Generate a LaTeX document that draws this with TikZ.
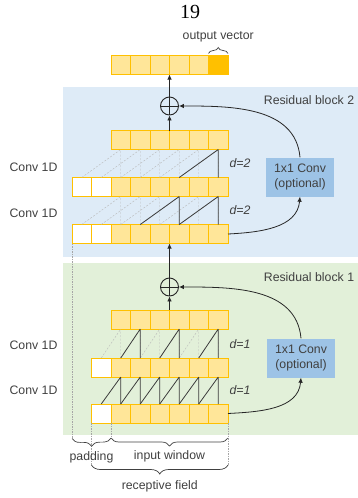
\documentclass[tikz,border=0pt]{standalone}
\usepackage{fontspec}
\setmainfont{Liberation Serif}
\setsansfont{Liberation Sans}
\usepackage{tikz}
\usetikzlibrary{arrows.meta, positioning, calc, decorations.pathreplacing}
\definecolor{tcnyellow}{RGB}{255,230,153}
\definecolor{tcnorange}{RGB}{255,192,0}
\definecolor{tcnblue}{RGB}{222,235,247}
\definecolor{tcngreen}{RGB}{226,240,217}
\definecolor{tcnconv}{RGB}{157,195,230}
\definecolor{tcnink}{RGB}{64,64,64}
\definecolor{tcnline}{RGB}{38,38,38}
\tikzset{
  %% ---- boxes ----
  cell/.style    = {rectangle, draw=tcnorange, line width=0.9pt,
                    fill=#1, minimum width=19.5pt, minimum height=19pt,
                    inner sep=0pt, outer sep=0pt},
  cell/.default  = tcnyellow,
  convbox/.style = {rectangle, fill=tcnconv, minimum width=68pt,
                    minimum height=39pt, align=center, text=tcnink},
  addnode/.style = {circle, draw=tcnline, line width=0.9pt,
                    minimum size=18pt, inner sep=0pt,
                    path picture={\draw[tcnline, line width=0.9pt]
                      (path picture bounding box.north) -- (path picture bounding box.south)
                      (path picture bounding box.west) -- (path picture bounding box.east);}},
  lbl/.style     = {inner sep=1pt, text=tcnink},
  dlbl/.style    = {inner sep=1pt, text=tcnink, font=\sffamily\itshape\fontsize{12.3}{15}\selectfont},
  %% ---- lines ----
  arrow/.style   = {-{Latex[length=5pt,width=4.5pt]}, line width=0.8pt, color=tcnline},
  link/.style    = {line width=0.8pt, color=tcnline!90},
  ghost/.style   = {dash pattern=on 2pt off 1.5pt, line width=0.4pt, color=gray!55},
  guide/.style   = {dash pattern=on 1.5pt off 1pt, line width=0.5pt, color=gray!70},
  curly/.style   = {decorate, decoration={brace, amplitude=#1}, line width=0.7pt, color=tcnink},
  curly/.default = 8pt,
}

\begin{document}
\begin{tikzpicture}[x=1pt, y=-1pt, font=\sffamily\fontsize{12.3}{15}\selectfont]

  \useasboundingbox (0,0) rectangle (358,498);

  \fill[tcnblue]  (63,87)  rectangle (358,257);
  \fill[tcngreen] (63,263) rectangle (358,435);

  \node[font=\rmfamily\fontsize{20}{22}\selectfont] (page) at (190,12) {19};

  %% output row
  \foreach \i in {3,...,7} \node[cell] (oc\i) at (62.25+19.5*\i,65) {};
  \node[cell=tcnorange] (oc8) at (218.25,65) {};

  %% residual block 2
  \foreach \i in {3,...,8} \node[cell] (u2c\i) at (62.25+19.5*\i,140) {};
  \foreach \i in {1,2} {
    \node[cell=white] (u1c\i) at (62.25+19.5*\i,187) {};
    \node[cell=white] (u0c\i) at (62.25+19.5*\i,234) {};
  }
  \foreach \i in {3,...,8} {
    \node[cell] (u1c\i) at (62.25+19.5*\i,187) {};
    \node[cell] (u0c\i) at (62.25+19.5*\i,234) {};
  }

  \foreach \i in {3,...,8} {
    \pgfmathtruncatemacro\j{\i-2}
    \draw[ghost] (u0c\i.north) -- (u1c\i.south) (u0c\j.north) -- (u1c\i.south);
    \draw[ghost] (u1c\i.north) -- (u2c\i.south) (u1c\j.north) -- (u2c\i.south);
  }
  \foreach \i in {6,8} {
    \pgfmathtruncatemacro\j{\i-2}
    \draw[link] (u0c\i.north) -- (u1c\i.south) (u0c\j.north) -- (u1c\i.south);
  }
  \draw[link] (u1c8.north) -- (u2c8.south) (u1c6.north) -- (u2c8.south);

  \node[addnode] (add2) at (169.5,106) {};
  \node[convbox] (conv2) at (300,177) {1x1 Conv\\(optional)};
  \node[lbl] (res2) at (309,100) {Residual block 2};
  \node[lbl] (conv2a) at (33.5,167) {Conv 1D};
  \node[lbl] (conv2b) at (33.5,213) {Conv 1D};
  \node[dlbl] (d2a) at (240,163) {d=2};
  \node[dlbl] (d2b) at (240,210) {d=2};

  \draw[arrow] (u2c6.north west) -- (add2);
  \draw[arrow] (add2) -- (oc6.south west);
  \draw[arrow] (u0c8.east) to[out=3, in=-95] (conv2.south);
  \draw[arrow] (conv2.north) to[out=95, in=0] (add2.east);

  %% residual block 1
  \foreach \i in {3,...,8} \node[cell] (l2c\i) at (62.25+19.5*\i,319.5) {};
  \node[cell=white] (l1c2) at (101.25,367.5) {};
  \node[cell=white] (l0c2) at (101.25,413.5) {};
  \foreach \i in {3,...,8} {
    \node[cell] (l1c\i) at (62.25+19.5*\i,367.5) {};
    \node[cell] (l0c\i) at (62.25+19.5*\i,413.5) {};
  }

  \foreach \i in {3,...,8} {
    \pgfmathtruncatemacro\j{\i-1}
    \draw[link]  (l0c\i.north) -- (l1c\i.south) (l0c\j.north) -- (l1c\i.south);
    \draw[ghost] (l1c\i.north) -- (l2c\i.south) (l1c\j.north) -- (l2c\i.south);
  }
  \foreach \i in {4,6,8} {
    \pgfmathtruncatemacro\j{\i-1}
    \draw[link] (l1c\i.north) -- (l2c\i.south) (l1c\j.north) -- (l2c\i.south);
  }

  \node[addnode] (add1) at (169.5,287) {};
  \node[convbox] (conv1) at (301,358) {1x1 Conv\\(optional)};
  \node[lbl] (res1) at (309,277) {Residual block 1};
  \node[lbl] (conv1a) at (33.5,345) {Conv 1D};
  \node[lbl] (conv1b) at (33.5,390) {Conv 1D};
  \node[dlbl] (d1a) at (240,344) {d=1};
  \node[dlbl] (d1b) at (240,390) {d=1};

  \draw[arrow] (l2c6.north west) -- (add1);
  \draw[arrow] (add1) -- (u0c6.south west);
  \draw[arrow] (l0c8.east) to[out=3, in=-95] (conv1.south);
  \draw[arrow] (conv1.north) to[out=95, in=0] (add1.east);

  %% braces
  \draw[curly=6pt] ($(oc8.north west)+(0,-2)$) -- ($(oc8.north east)+(0,-2)$)
    node[lbl, midway, above=10pt] (outlbl) {output vector};

  \draw[guide] (u0c1.south west) -- ++(0,195) coordinate (padL);
  \draw[guide] (l0c3.south west) -- ++(0,15) coordinate (winL);
  \draw[guide] (l0c2.south west) -- ++(0,42) coordinate (recL);
  \draw[guide] (l0c8.south east) -- ++(0,42) coordinate (recR);
  \coordinate (winR) at (winL -| recR);

  \draw[curly, decoration={mirror}] (padL) -- (winL)
    node[lbl, midway, below=11.5pt] (padlbl) {padding};
  \draw[curly, decoration={mirror}] (winL) -- (winR)
    node[lbl, midway, below=11.5pt] (winlbl) {input window};
  \draw[curly=9pt, decoration={mirror}] (recL) -- (recR)
    node[lbl, midway, below=14pt] (reclbl) {receptive field};

\end{tikzpicture}
\end{document}
